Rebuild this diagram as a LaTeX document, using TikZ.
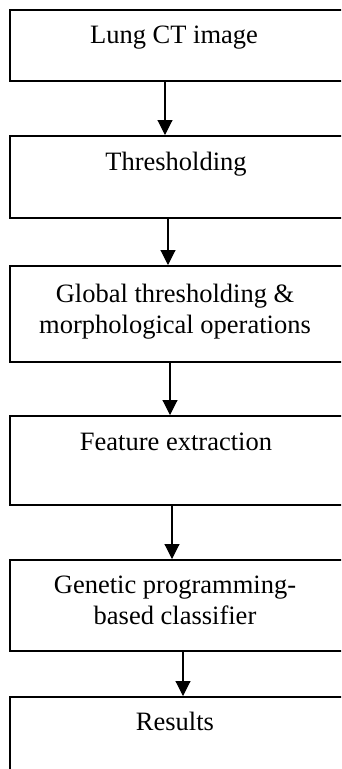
\documentclass[tikz,border=0pt]{standalone}
\usepackage{fontspec}
\setmainfont{Liberation Serif}
\usetikzlibrary{arrows.meta}

\begin{document}
\begin{tikzpicture}[x=1pt,y=1pt,yscale=-1,xscale=1,
  stagebox/.style={draw,line width=1.5pt,inner sep=0pt,minimum width=361pt,anchor=north west},
  stagetext/.style={inner sep=0pt,align=center,font=\fontsize{26.5}{30.5}\selectfont},
  flowarrow/.style={line width=1.1pt,-{Triangle[length=15pt,width=15pt]}}]
%set diagram to the size of the figure
\useasboundingbox (0,0) rectangle (341,769);
\clip (0,0) rectangle (341,769);

%Boxes
\node[stagebox,minimum height=71pt] (lung) at (9,9) {};
\node[stagebox,minimum height=82pt] (thresh) at (9,135) {};
\node[stagebox,minimum height=96pt] (glob) at (9,265) {};
\node[stagebox,minimum height=89pt] (feat) at (9,415) {};
\node[stagebox,minimum height=91pt] (gp) at (9,559) {};
\node[stagebox,minimum height=100pt] (res) at (9,696) {};

% Text Node
\node[stagetext,anchor=base] (lungtxt) at (174,43) {Lung CT image};
% Text Node
\node[stagetext,anchor=base] (threshtxt) at (176,170) {Thresholding};
% Text Node
\node[stagetext,anchor=north] (globtxt) at (175,284) {Global thresholding \&\\morphological operations};
% Text Node
\node[stagetext,anchor=base] (feattxt) at (176,450) {Feature extraction};
% Text Node
\node[stagetext,anchor=north] (gptxt) at (175,576) {Genetic programming-\\based classifier};
% Text Node
\node[stagetext,anchor=base] (restxt) at (175,730) {Results};

%Straight Lines
\draw[flowarrow] ([xshift=156pt]lung.south west) -- ([xshift=156pt]thresh.north west);
\draw[flowarrow] ([xshift=159pt]thresh.south west) -- ([xshift=159pt]glob.north west);
\draw[flowarrow] ([xshift=161pt]glob.south west) -- ([xshift=161pt]feat.north west);
\draw[flowarrow] ([xshift=163pt]feat.south west) -- ([xshift=163pt]gp.north west);
\draw[flowarrow] ([xshift=174pt]gp.south west) -- ([xshift=174pt]res.north west);

\end{tikzpicture}
\end{document}
